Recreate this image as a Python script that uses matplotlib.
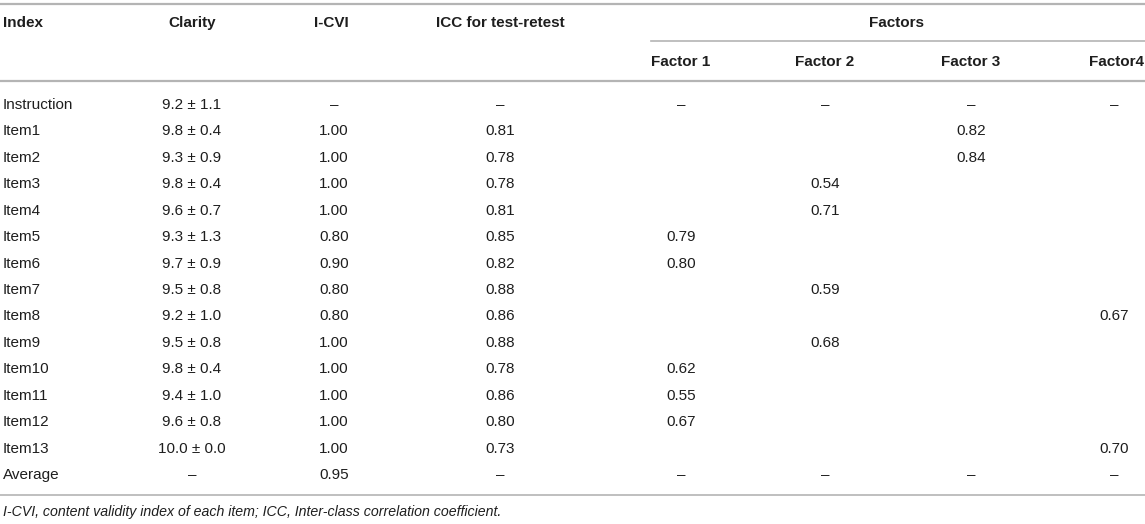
import matplotlib
matplotlib.use("Agg")
import matplotlib.pyplot as plt

# table data
index = ["Instruction"] + ["Item%d" % i for i in range(1, 14)] + ["Average"]
clarity = ["9.2 \u00b1 1.1", "9.8 \u00b1 0.4", "9.3 \u00b1 0.9", "9.8 \u00b1 0.4", "9.6 \u00b1 0.7",
           "9.3 \u00b1 1.3", "9.7 \u00b1 0.9", "9.5 \u00b1 0.8", "9.2 \u00b1 1.0", "9.5 \u00b1 0.8",
           "9.8 \u00b1 0.4", "9.4 \u00b1 1.0", "9.6 \u00b1 0.8", "10.0 \u00b1 0.0", "\u2013"]
icvi = ["\u2013", "1.00", "1.00", "1.00", "1.00", "0.80", "0.90", "0.80", "0.80", "1.00",
        "1.00", "1.00", "1.00", "1.00", "0.95"]
icc = ["\u2013", "0.81", "0.78", "0.78", "0.81", "0.85", "0.82", "0.88", "0.86", "0.88",
       "0.78", "0.86", "0.80", "0.73", "\u2013"]
D = "\u2013"
factor1 = [D, "", "", "", "", "0.79", "0.80", "", "", "", "0.62", "0.55", "0.67", "", D]
factor2 = [D, "", "", "0.54", "0.71", "", "", "0.59", "", "0.68", "", "", "", "", D]
factor3 = [D, "0.82", "0.84", "", "", "", "", "", "", "", "", "", "", "", D]
factor4 = [D, "", "", "", "", "", "", "", "0.67", "", "", "", "", "0.70", D]
footnote = "I-CVI, content validity index of each item; ICC, Inter-class correlation coefficient."

W, H = 1145, 524
plt.rcParams['font.family'] = ['Liberation Sans', 'DejaVu Sans']
fig = plt.figure(figsize=(W / 100, H / 100), dpi=100)
ax = fig.add_axes([0, 0, 1, 1])
ax.set_xlim(0, W)
ax.set_ylim(H, 0)
ax.axis('off')

txt = '#1e1e1e'
line_c = '#b4b4b4'
fs = 11

# rules
ax.plot([0, W], [4, 4], color=line_c, lw=1.6)
ax.plot([651, W], [41, 41], color=line_c, lw=1.2)
ax.plot([0, W], [81, 81], color=line_c, lw=1.6)
ax.plot([0, W], [495, 495], color=line_c, lw=1.2)

# column centres
cx_clar, cx_icvi, cx_icc = 192, 334, 500
fx = [681, 825, 971, 1114]

# header
hy = 23
bold = dict(va='center', fontsize=fs, fontweight='bold', color=txt)
ax.text(3, hy, "Index", ha='left', **bold)
ax.text(cx_clar, hy, "Clarity", ha='center', **bold)
ax.text(cx_icvi - 3, hy, "I-CVI", ha='center', **bold)
ax.text(cx_icc, hy, "ICC for test-retest", ha='center', **bold)
ax.text(896, hy, "Factors", ha='center', **bold)
sub_y = 62
for x, name in zip(fx[:3], ["Factor 1", "Factor 2", "Factor 3"]):
    ax.text(x, sub_y, name, ha='center', **bold)
ax.text(1144, sub_y, "Factor4", ha='right', **bold)

# body
norm = dict(va='center', fontsize=fs, color=txt)
for i in range(len(index)):
    y = 105 + 26.43 * i
    ax.text(3, y, index[i], ha='left', **norm)
    ax.text(cx_clar, y, clarity[i], ha='center', **norm)
    ax.text(cx_icvi, y, icvi[i], ha='center', **norm)
    ax.text(cx_icc, y, icc[i], ha='center', **norm)
    for x, col in zip(fx, [factor1, factor2, factor3, factor4]):
        ax.text(x, y, col[i], ha='center', **norm)

ax.text(3, 512, footnote, ha='left', va='center', fontsize=10.15, style='italic', color=txt)

fig.savefig("out.png", dpi=100)
